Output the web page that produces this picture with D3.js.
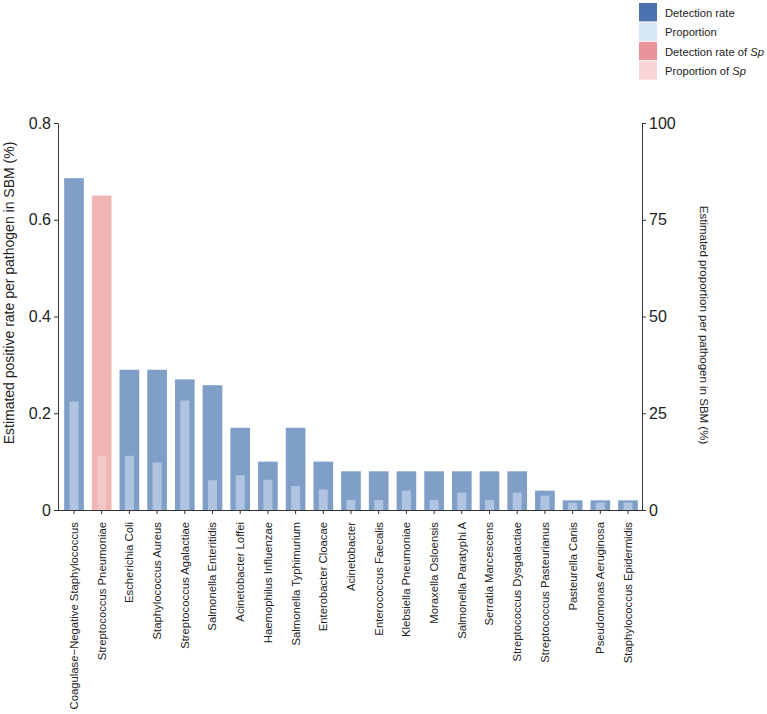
<!DOCTYPE html>
<html>
<head>
<meta charset="utf-8">
<script src="https://cdnjs.cloudflare.com/ajax/libs/d3/7.8.5/d3.min.js"></script>
<style>
  body { margin: 0; background: #fff; }
  svg text { font-family: "Liberation Sans", Arial, sans-serif; fill: #222; }
</style>
</head>
<body>
<div id="chart"></div>
<script>
// pathogen names, in plot order
var pathogens = [
  "Coagulase\u2212Negative Staphylococcus", "Streptococcus Pneumoniae", "Escherichia Coli",
  "Staphylococcus Aureus", "Streptococcus Agalactiae", "Salmonella Enteritidis",
  "Acinetobacter Loffei", "Haemophilus Influenzae", "Salmonella Typhimurium",
  "Enterobacter Cloacae", "Acinetobacter", "Enterococcus Faecalis",
  "Klebsiella Pneumoniae", "Moraxella Osloensis", "Salmonella Paratyphi A",
  "Serratia Marcescens", "Streptococcus Dysgalactiae", "Streptococcus Pasteurianus",
  "Pasteurella Canis", "Pseudomonas Aeruginosa", "Staphylococcus Epidermidis"
];
// estimated positive rate (left axis)
var detectionRate = [0.686, 0.65, 0.29, 0.29, 0.27, 0.258, 0.17, 0.1, 0.17, 0.1,
  0.08, 0.08, 0.08, 0.08, 0.08, 0.08, 0.08, 0.04, 0.02, 0.02, 0.02];
// estimated proportion % (right axis)
var proportion = [28, 14, 14, 12.3, 28.3, 7.7, 9, 7.8, 6.2, 5.3,
  2.6, 2.6, 5, 2.6, 4.5, 2.6, 4.5, 3.7, 1.9, 1.9, 1.9];
var highlight = "Streptococcus Pneumoniae";

var leftTicks = [0, 0.2, 0.4, 0.6, 0.8];
var rightTicks = [0, 25, 50, 75, 100];

var legendItems = [
  {label: "Detection rate", color: "#4a72ae"},
  {label: "Proportion", color: "#d7e6f4"},
  {label: "Detection rate of ", sp: "Sp", color: "#e8949a"},
  {label: "Proportion of ", sp: "Sp", color: "#f8d4d6"}
];

var W = 767, H = 714;
var svg = d3.select("#chart").append("svg")
    .attr("width", W)
    .attr("height", H);

var x0 = 58, x1 = 642, yTop = 123, yBot = 510;

// scales
var x = d3.scaleBand().domain(pathogens).range([60, 642]).paddingInner(0.29).paddingOuter(0.15);
var yL = d3.scaleLinear().domain([0, 0.8]).range([yBot, yTop]);
var yR = d3.scaleLinear().domain([0, 100]).range([yBot, yTop]);

// main bars
svg.append("g").selectAll("rect")
    .data(pathogens)
    .enter().append("rect")
    .attr("x", function(d) { return x(d); })
    .attr("width", x.bandwidth())
    .attr("y", function(d, i) { return yL(detectionRate[i]); })
    .attr("height", function(d, i) { return yBot - yL(detectionRate[i]); })
    .attr("fill", function(d) { return d === highlight ? "#f0b5b5" : "#7f9fc9"; });

// inner proportion bars
var innerW = 9;
svg.append("g").selectAll("rect")
    .data(pathogens)
    .enter().append("rect")
    .attr("x", function(d) { return x(d) + x.bandwidth() / 2 - innerW / 2; })
    .attr("width", innerW)
    .attr("y", function(d, i) { return yR(proportion[i]); })
    .attr("height", function(d, i) { return yBot - yR(proportion[i]); })
    .attr("fill", function(d) { return d === highlight ? "#f4c7c7" : "#b0c4e1"; });

// left axis
var gl = svg.append("g")
    .attr("transform", "translate(" + x0 + ",0)")
    .call(d3.axisLeft(yL).tickValues(leftTicks).tickSize(4).tickSizeOuter(0)
      .tickFormat(function(d) { return d === 0 ? "0" : d3.format(".1f")(d); }));
gl.selectAll("text").style("font-size", "16px");

// right axis
var gr = svg.append("g")
    .attr("transform", "translate(" + x1 + ",0)")
    .call(d3.axisRight(yR).tickValues(rightTicks).tickSize(4).tickSizeOuter(0));
gr.selectAll("text").style("font-size", "16px");

// bottom axis
var gb = svg.append("g")
    .attr("transform", "translate(0," + yBot + ")")
    .call(d3.axisBottom(x).tickSize(4).tickSizeOuter(0));
gb.select(".domain").attr("d", "M" + x0 + ",0.5H" + x1);
gb.selectAll("text")
    .style("font-size", "11.3px")
    .attr("text-anchor", "end")
    .attr("transform", "rotate(-90)")
    .attr("x", -12)
    .attr("y", 0)
    .attr("dy", "0.35em");

svg.selectAll(".domain, .tick line").attr("stroke", "#333");

// axis titles
svg.append("text")
    .attr("transform", "translate(14,293) rotate(-90)")
    .attr("text-anchor", "middle")
    .style("font-size", "14px")
    .text("Estimated positive rate per pathogen in SBM (%)");

svg.append("text")
    .attr("transform", "translate(700,325) rotate(90)")
    .attr("text-anchor", "middle")
    .style("font-size", "11.5px")
    .text("Estimated proportion per pathogen in SBM (%)");

// legend
var lg = svg.append("g").attr("transform", "translate(639,3)");
var item = lg.selectAll("g")
    .data(legendItems)
    .enter().append("g")
    .attr("transform", function(d, i) { return "translate(0," + i * 19.4 + ")"; });
item.append("rect")
    .attr("width", 18)
    .attr("height", 18.4)
    .attr("fill", function(d) { return d.color; });
var lt = item.append("text")
    .attr("x", 26)
    .attr("y", 10)
    .attr("dy", "0.35em")
    .style("font-size", "11.2px")
    .text(function(d) { return d.label; });
lt.filter(function(d) { return d.sp; })
    .append("tspan")
    .style("font-style", "italic")
    .text(function(d) { return d.sp; });
</script>
</body>
</html>
